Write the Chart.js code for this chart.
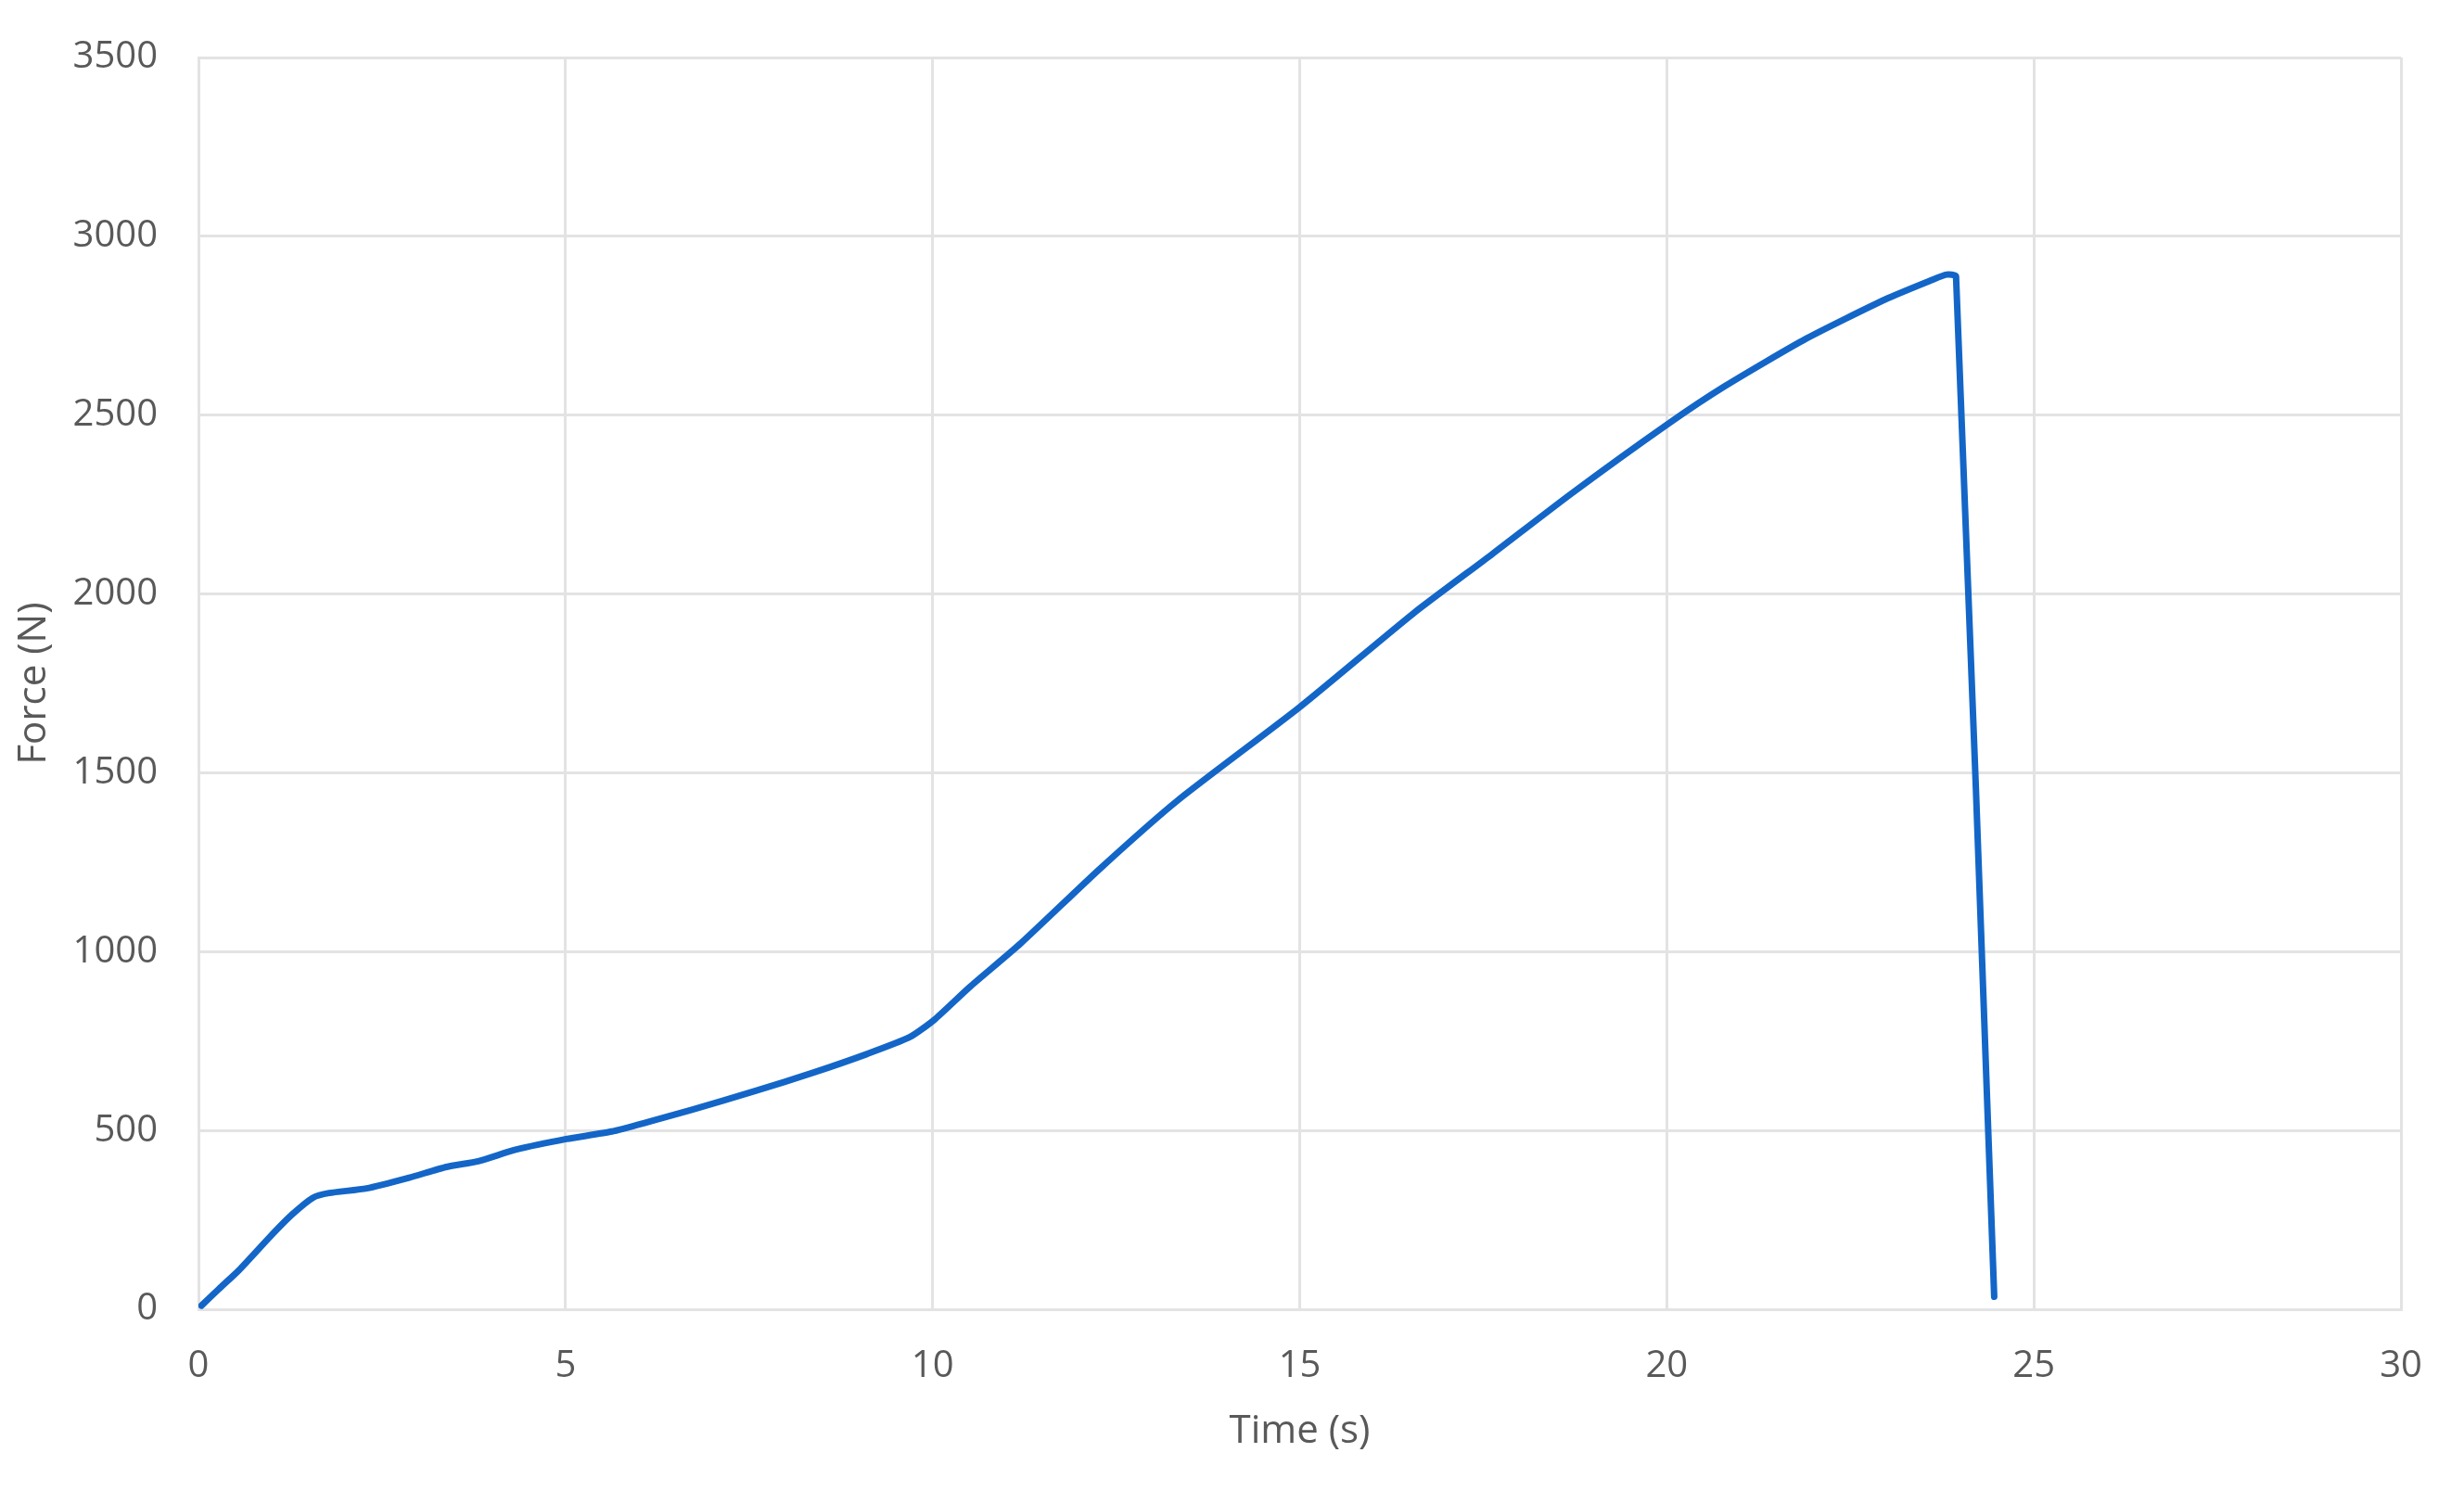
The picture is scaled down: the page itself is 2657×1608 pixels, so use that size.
<!DOCTYPE html>
<html lang="en">
<head>
    <meta charset="UTF-8">
    <title>Force vs Time</title>
    <script src="https://cdn.jsdelivr.net/npm/chart.js"></script>
    <style>
        html, body {
            margin: 0;
            padding: 0;
            background: #ffffff;
        }
        .wrap {
            width: 2657px;
            height: 1608px;
        }
    </style>
</head>
<body>
<div class="wrap">
    <canvas id="forceChart" width="2657" height="1608"></canvas>
</div>

<script>
    // values
    const timeS = [0.04, 0.28, 0.55, 0.98, 1.27, 1.56, 1.78, 2.29, 2.87, 3.38, 3.81, 4.32, 5.01, 5.63, 6.13, 6.72,
        7.58, 8.38, 9.11, 9.69, 10.02, 10.5, 11.2, 12.27, 13.34, 14.99, 16.55, 17.6, 18.69, 20.0, 20.8,
        21.9, 22.98, 23.6, 23.81, 23.94, 24.46];
    const forceN = [10, 57, 109, 204, 264, 312, 325, 338, 368, 398, 414, 446, 476, 497, 524, 558,
        610, 662, 714, 761, 809, 900, 1023, 1230, 1423, 1682, 1946, 2108, 2279, 2473, 2582,
        2714, 2824, 2877, 2893, 2888, 35];
    const xTicks = [0, 5, 10, 15, 20, 25, 30];
    const yTicks = [0, 500, 1000, 1500, 2000, 2500, 3000, 3500];

    const points = timeS.map((t, i) => ({x: t, y: forceN[i]}));
    const labelColor = '#595959';
    const gridColor = '#e3e3e3';
    const fontFamily = '"Open Sans", "Liberation Sans", sans-serif';

    new Chart(document.getElementById('forceChart'), {
        type: 'scatter',
        data: {
            datasets: [{
                label: 'Force',
                data: points,
                showLine: true,
                borderColor: '#1366c7',
                borderWidth: 7,
                pointRadius: 0,
                tension: 0.2,
                borderJoinStyle: 'round',
                borderCapStyle: 'round'
            }]
        },
        options: {
            responsive: false,
            animation: false,
            layout: {
                padding: {left: 0, top: 62, right: 68, bottom: 0}
            },
            plugins: {
                legend: {display: false},
                tooltip: {enabled: false}
            },
            scales: {
                x: {
                    type: 'linear',
                    min: 0,
                    max: 30,
                    afterBuildTicks: (scale) => {
                        scale.ticks = xTicks.map(v => ({value: v}));
                    },
                    afterFit: (scale) => {
                        scale.height = 196;
                    },
                    grid: {color: gridColor, lineWidth: 3, drawTicks: true, tickLength: 38, tickColor: 'rgba(0,0,0,0)'},
                    border: {color: gridColor, width: 3},
                    ticks: {
                        color: labelColor, padding: 0, font: {size: 40, family: fontFamily},
                        callback: (v) => String(v)
                    },
                    title: {
                        display: true,
                        text: 'Time (s)',
                        color: labelColor,
                        font: {size: 42, family: fontFamily},
                        padding: {top: 0, bottom: 39}
                    }
                },
                y: {
                    type: 'linear',
                    min: 0,
                    max: 3500,
                    afterBuildTicks: (scale) => {
                        scale.ticks = yTicks.map(v => ({value: v}));
                    },
                    afterFit: (scale) => {
                        scale.width = 214;
                    },
                    // invisible tick marks hold the labels off the axis without adding top padding
                    grid: {color: gridColor, lineWidth: 3, drawTicks: true, tickLength: 44, tickColor: 'rgba(0,0,0,0)'},
                    border: {color: gridColor, width: 3},
                    ticks: {
                        color: labelColor, padding: 0, font: {size: 40, family: fontFamily},
                        callback: (v) => String(v)
                    },
                    title: {
                        display: true,
                        text: 'Force (N)',
                        color: labelColor,
                        font: {size: 42, family: fontFamily},
                        padding: {top: 12, bottom: 0}
                    }
                }
            }
        }
    });
</script>
</body>
</html>
